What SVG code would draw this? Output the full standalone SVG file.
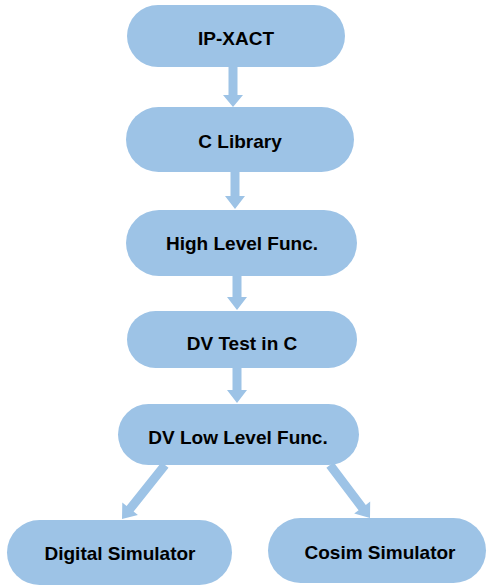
<svg xmlns="http://www.w3.org/2000/svg" width="487" height="586" viewBox="0 0 487 586">
<style>
.n{fill:#9DC3E6}
.a{fill:#9DC3E6}
.t{font-family:"Liberation Sans",Arial,sans-serif;font-weight:bold;font-size:19px;fill:#000;text-anchor:middle}
</style>
<rect width="487" height="586" fill="#fff"/>
<g id="connectors">
<polygon class="a" points="228.5,60 237.5,60 237.5,95 243,95 233,107 223,95 228.5,95"/>
<polygon class="a" points="230.5,165 239.5,165 239.5,196 245,196 235,209 225,196 230.5,196"/>
<polygon class="a" points="232.5,270 241.5,270 241.5,297 247,297 237,310 227,297 232.5,297"/>
<polygon class="a" points="232.5,362 241.5,362 241.5,390 247,390 237,403 227,390 232.5,390"/>
<polygon class="a" points="161.5,462.2 168.5,467.8 133.6,511.6 137.9,515 122,519 122.3,502.6 126.6,506"/>
<polygon class="a" points="333.6,462.3 365.8,504.9 370.2,501.6 370,518 354.2,513.6 358.6,510.3 326.4,467.7"/>
</g>
<g id="ipxact"><rect class="n" x="127" y="5" width="218" height="62" rx="31"/><text class="t" x="236" y="45">IP-XACT</text></g>
<g id="clib"><rect class="n" x="126" y="107" width="228" height="65" rx="32.5"/><text class="t" x="240" y="148">C Library</text></g>
<g id="highlevel"><rect class="n" x="126" y="210" width="231" height="66" rx="33"/><text class="t" x="242" y="250">High Level Func.</text></g>
<g id="dvtest"><rect class="n" x="127" y="311" width="230" height="57" rx="28.5"/><text class="t" x="242" y="350">DV Test in C</text></g>
<g id="dvlow"><rect class="n" x="118" y="404" width="241" height="61" rx="30.5"/><text class="t" x="238" y="444">DV Low Level Func.</text></g>
<g id="digital"><rect class="n" x="7" y="520" width="225" height="65" rx="32.5"/><text class="t" x="120" y="560">Digital Simulator</text></g>
<g id="cosim"><rect class="n" x="268" y="518" width="218" height="65" rx="32.5"/><text class="t" x="380" y="559">Cosim Simulator</text></g>
</svg>
